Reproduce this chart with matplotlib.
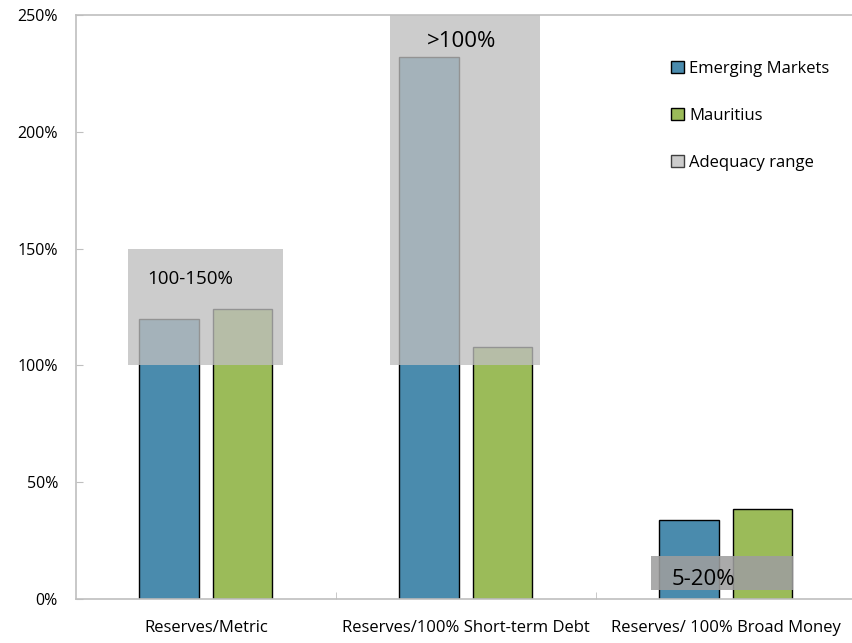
import matplotlib
matplotlib.use("Agg")
import matplotlib.pyplot as plt
from matplotlib.patches import Rectangle, Patch
from matplotlib.ticker import FuncFormatter, FixedLocator

plt.rcParams['font.family'] = ['Open Sans', 'DejaVu Sans']

categories = ["Reserves/Metric", "Reserves/100% Short-term Debt", "Reserves/ 100% Broad Money"]
emerging = [120, 232, 34]
mauritius = [124, 108, 38.5]
range_low = [100, 100, 4]
range_high = [150, 250, 18.5]
range_labels = ["100-150%", ">100%", "5-20%"]
yticks = [0, 50, 100, 150, 200, 250]

blue = "#4A8BAD"
green = "#9BBB59"
spine = "#BFBFBF"

fig = plt.figure(figsize=(8.52, 6.43), dpi=100)
ax = fig.add_axes([76/852, (643-599)/643, 780/852, (599-15)/643])

x = list(range(len(categories)))
w = 0.228
ax.bar([i - 0.142 for i in x], emerging, width=w, color=blue, edgecolor="black", linewidth=1.0, zorder=2)
ax.bar([i + 0.14 for i in x], mauritius, width=w, color=green, edgecolor="black", linewidth=1.0, zorder=2)

# adequacy ranges (semi-transparent overlays)
rng_left = [-0.30, -0.293, -0.289]
rng_right = [0.296, 0.285, 0.258]
rng_color = [(0.745, 0.745, 0.745, 0.78), (0.745, 0.745, 0.745, 0.78), (0.62, 0.62, 0.62, 0.88)]
for i in x:
    ax.add_patch(Rectangle((i + rng_left[i], range_low[i]), rng_right[i] - rng_left[i],
                           range_high[i] - range_low[i], facecolor=rng_color[i],
                           edgecolor="none", zorder=3))

ax.text(0 - 0.062, 137, range_labels[0], ha="center", va="center", fontsize=13.5, zorder=4)
ax.text(1 - 0.018, 238.5, range_labels[1], ha="center", va="center", fontsize=16, zorder=4)
ax.text(2 - 0.085, 8.5, range_labels[2], ha="center", va="center", fontsize=16, zorder=4)

ax.set_xlim(-0.5, 2.5)
ax.set_ylim(0, 250)
ax.set_yticks(yticks)
ax.yaxis.set_major_formatter(FuncFormatter(lambda v, p: f"{int(v)}%"))
ax.set_xticks(x)
ax.set_xticklabels(categories)
ax.xaxis.set_minor_locator(FixedLocator([0.5, 1.5]))
ax.tick_params(axis="x", which="major", length=0, pad=15, labelsize=12)
ax.tick_params(axis="x", which="minor", direction="in", length=5, color=spine)
ax.tick_params(axis="y", direction="in", length=5, color=spine, labelsize=11.5, pad=13)

for s in ["left", "bottom", "top"]:
    ax.spines[s].set_color(spine)
    ax.spines[s].set_linewidth(1.2)
ax.spines["right"].set_visible(False)

handles = [Patch(facecolor=blue, edgecolor="black"),
           Patch(facecolor=green, edgecolor="black"),
           Patch(facecolor="#CCCCCC", edgecolor="#404040")]
labels = ["Emerging Markets", "Mauritius", "Adequacy range"]
fig.legend(handles, labels, loc="upper left", bbox_to_anchor=(664/852, 1 - 54/643),
           frameon=False, fontsize=12, handlelength=0.8, handleheight=0.8,
           handletextpad=0.3, labelspacing=1.85, borderaxespad=0)

fig.savefig("out.png", dpi=100)
